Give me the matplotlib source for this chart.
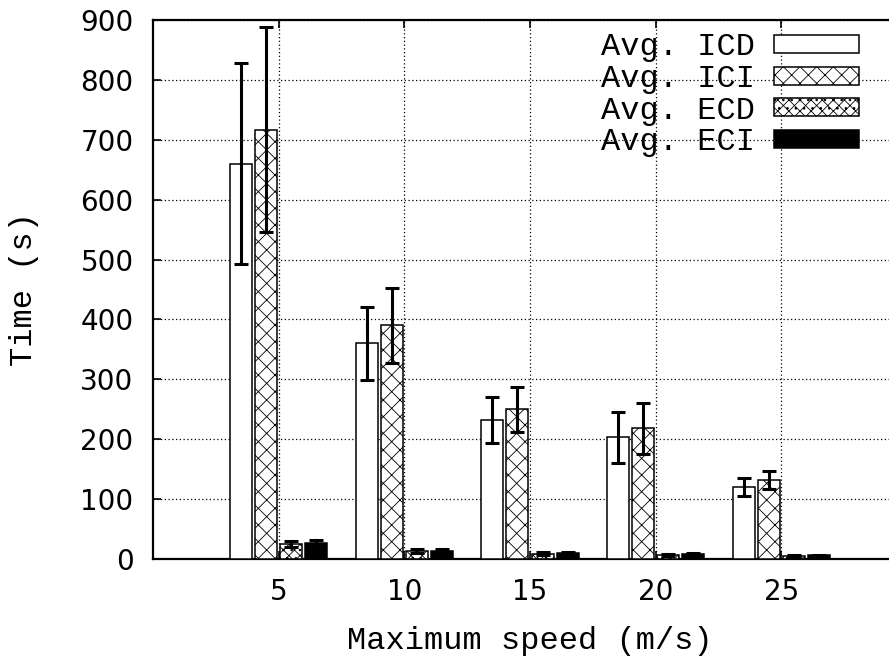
import matplotlib
matplotlib.use('agg')
from matplotlib import pyplot as plt
import numpy as np

# Data
speeds = ['5', '10', '15', '20', '25']
series = ['Avg. ICD', 'Avg. ICI', 'Avg. ECD', 'Avg. ECI']

icd = [660, 360, 232, 203, 120]
icd_err = [168, 61, 38, 42, 15]
ici = [717, 390, 250, 218, 132]
ici_err = [171, 63, 38, 43, 15]
ecd = [25, 13, 9, 7, 5]
ecd_err = [5, 3, 2, 2, 1]
eci = [27, 14, 10, 8, 6]
eci_err = [5, 3, 2, 2, 1]

values = [icd, ici, ecd, eci]
errors = [icd_err, ici_err, ecd_err, eci_err]
hatches = ['', 'xx', 'xxx..', '']
faces = ['white', 'white', 'white', 'black']

plt.rcParams['hatch.linewidth'] = 0.6

fig = plt.figure(figsize=(8.89, 6.56), dpi=100)
# axes runs slightly past the right edge, like the cropped original
ax = fig.add_axes([153 / 889, 97 / 656, 754 / 889, 539 / 656])

x = np.arange(len(speeds))
step = 0.2
width = 0.176
for i, (vals, errs) in enumerate(zip(values, errors)):
    ax.bar(x + (i - 1.5) * step, vals, width, color=faces[i], edgecolor='black',
           hatch=hatches[i], linewidth=1.1, label=series[i], zorder=3)
    ax.errorbar(x + (i - 1.5) * step, vals, yerr=errs, fmt='none', ecolor='black',
                elinewidth=2.2, capsize=5, capthick=2.2, zorder=4)

ax.set_xlim(-1, 5)
ax.set_ylim(0, 900)
ax.set_xticks(x)
ax.set_xticklabels(speeds)
ax.set_yticks(range(0, 901, 100))

ax.grid(True, color='black', linestyle=(0, (1, 2)), linewidth=0.9, zorder=0)
ax.set_axisbelow(True)

for side in ['left', 'bottom', 'top']:
    ax.spines[side].set_linewidth(1.6)
ax.spines['right'].set_visible(False)

ax.tick_params(direction='in', length=6, width=1.2, top=True, right=False,
               labelsize=20, pad=14)
for lab in ax.get_xticklabels() + ax.get_yticklabels():
    lab.set_family('DejaVu Sans')

mono = 'Liberation Mono'
ax.set_xlabel('Maximum speed (m/s)', family=mono, fontsize=23, labelpad=14)
ax.set_ylabel('Time (s)', family=mono, fontsize=23, labelpad=30)

ax.legend(loc='upper right', bbox_to_anchor=(0.936, 0.977), frameon=False,
          markerfirst=False, prop={'family': mono, 'size': 23},
          handlelength=2.66, handleheight=0.5, handletextpad=0.6,
          labelspacing=0.05, borderpad=0, borderaxespad=0)

plt.savefig('out.png', dpi=100)
